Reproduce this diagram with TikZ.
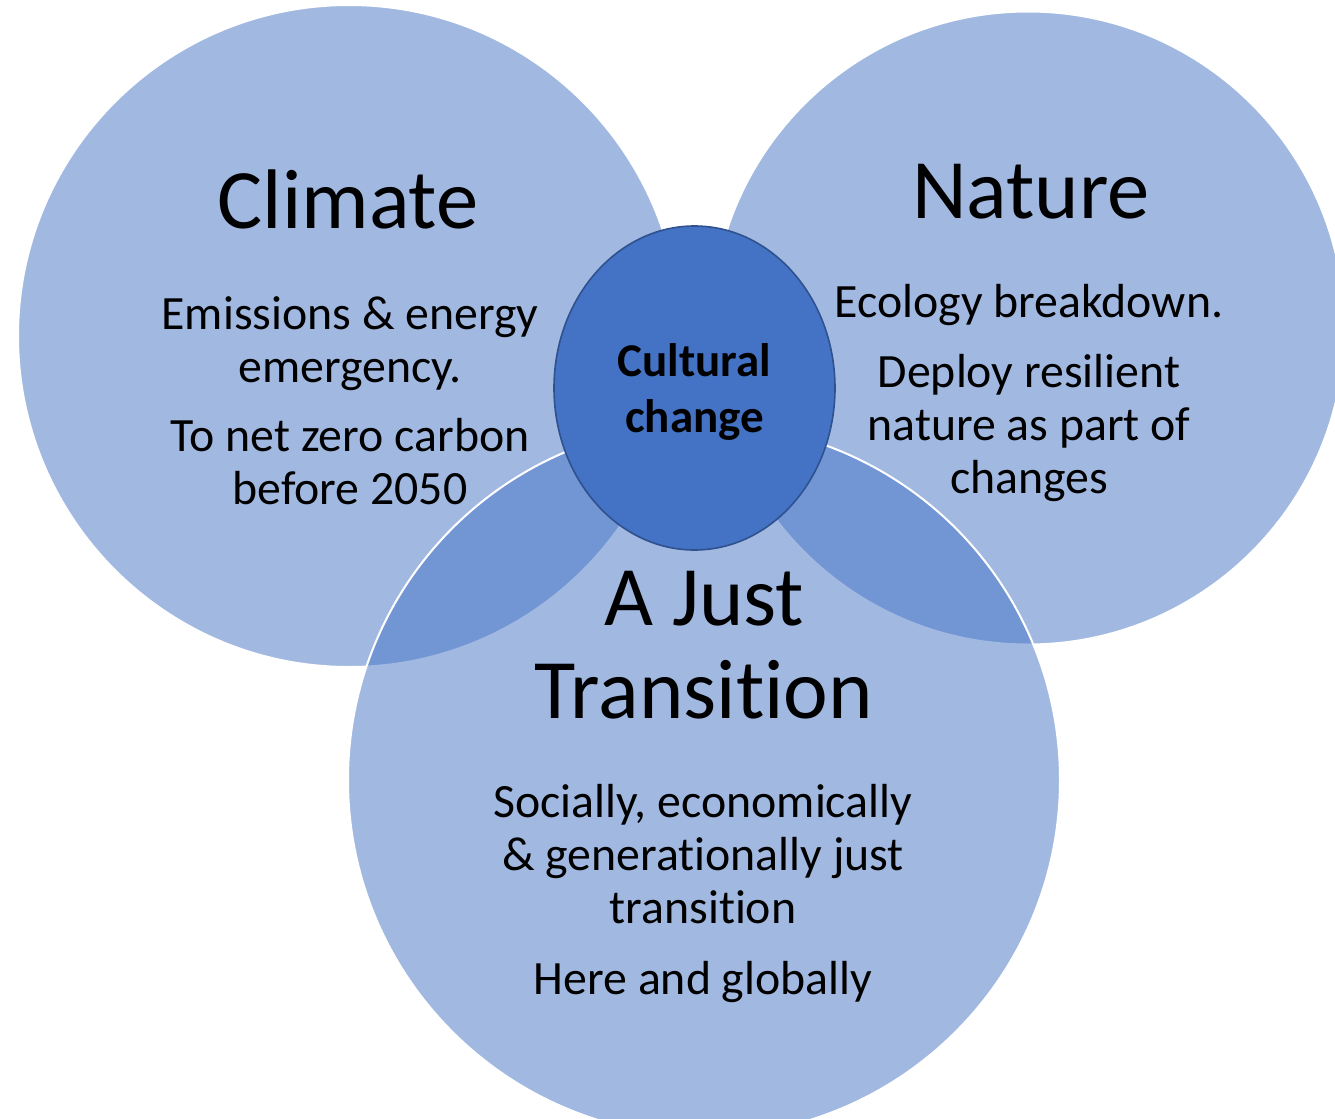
\documentclass[tikz,border=0pt]{standalone}
\usepackage{fontspec}
\setmainfont{Carlito}[Ligatures=NoCommon]
\usetikzlibrary{shapes.geometric}
\definecolor{vennblue}{HTML}{4472C4}
\definecolor{vennedge}{HTML}{2F528F}
\tikzset{
  venn/.style={circle, inner sep=0pt, outer sep=0pt, fill=vennblue, fill opacity=0.5, draw=white, draw opacity=1, line width=1pt},
  core/.style={ellipse, inner sep=0pt, outer sep=0pt, fill=vennblue, draw=vennedge, line width=0.8pt},
  title/.style={anchor=base, align=center, inner sep=0pt, font=\fontsize{42.3pt}{46.5pt}\selectfont},
  body/.style={anchor=base, align=center, inner sep=0pt, font=\fontsize{23.9pt}{26.5pt}\selectfont},
  corelabel/.style={anchor=base, align=center, inner sep=0pt, font=\fontsize{23.5pt}{28pt}\selectfont\bfseries}
}
\begin{document}
\begin{tikzpicture}[x=0.5pt,y=-0.5pt]
\useasboundingbox (0,0) rectangle (1335,1119);
\node[venn, minimum size=331pt] (climate) at (349,336) {};
\node[venn, minimum size=316.5pt] (nature) at (1028,328) {};
\node[venn, minimum size=356pt] (just) at (704,780) {};
\node[core, minimum width=140.5pt, minimum height=162pt] (culture) at (694.5,388) {};
% titles (anchor base = baseline of the last line)
\node[title] (climateT) at (348,228) {Climate};
\node[title] (natureT) at (1031,218) {Nature};
\node[title] (justT) at (704,718) {A Just\\Transition};
% bodies
\node[body] (climateA) at (350,382) {Emissions \& energy\\emergency.};
\node[body] (climateB) at (350,504) {To net zero carbon\\before 2050};
\node[body] (natureA) at (1029,317) {Ecology breakdown.};
\node[body] (natureB) at (1029,493) {Deploy resilient\\nature as part of\\changes};
\node[body] (justA) at (703,923) {Socially, economically\\\& generationally just\\transition};
\node[body] (justB) at (703,994) {Here and globally};
\node[corelabel] (cultureT) at (694.5,432) {Cultural\\change};
\end{tikzpicture}
\end{document}
